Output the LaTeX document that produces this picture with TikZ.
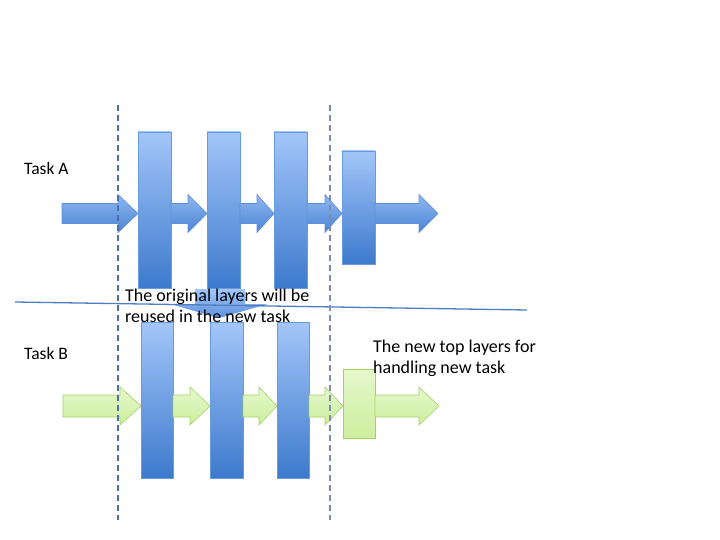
\documentclass[tikz,border=0pt]{standalone}
\usepackage{fontspec}
\setmainfont{Carlito}
\usetikzlibrary{calc}
\definecolor{boxtop}{HTML}{A3C6F9}
\definecolor{boxbot}{HTML}{3D7ACD}
\definecolor{boxline}{HTML}{6A9BE0}
\definecolor{arrtop}{HTML}{8FB7F0}
\definecolor{arrbot}{HTML}{4B84D4}
\definecolor{arrline}{HTML}{5E90D8}
\definecolor{grtop}{HTML}{E6F8CC}
\definecolor{grbot}{HTML}{CDEE9E}
\definecolor{grline}{HTML}{A0D268}
\definecolor{dashA}{HTML}{4C6FAE}
\definecolor{dashB}{HTML}{7F8BAA}
\definecolor{sepline}{HTML}{4F7DC0}
\tikzset{
  bluebox/.style={draw=boxline, line width=0.6pt, top color=boxtop, bottom color=boxbot, inner sep=0pt, outer sep=0pt},
  greenbox/.style={draw=grline, line width=0.6pt, top color=grtop, bottom color=grbot, inner sep=0pt, outer sep=0pt},
  bluearr/.style={draw=arrline, line width=0.6pt, top color=arrtop, bottom color=arrbot},
  greenarr/.style={draw=grline, line width=0.6pt, top color=grtop, bottom color=grbot},
  divider/.style={line width=1.3pt, dash pattern=on 6pt off 4pt},
  lbl/.style={font=\fontsize{18}{21}\selectfont, inner sep=0pt, anchor=west, align=left},
  tasklbl/.style={font=\fontsize{17.5}{20}\selectfont, inner sep=0pt, anchor=west},
}
% #1 style, #2 start, #3 end, #4 half shaft, #5 half head, #6 head length
\newcommand\blockarr[6]{\path[#1] let \p1=(#2), \p2=(#3) in
  (\x1,\y2+#4) -- (\x2-#6,\y2+#4) -- (\x2-#6,\y2+#5) -- (\x2,\y2) --
  (\x2-#6,\y2-#5) -- (\x2-#6,\y2-#4) -- (\x1,\y2-#4) -- cycle;}
\begin{document}
\begin{tikzpicture}[x=1pt,y=-1pt]
\useasboundingbox (0,0) rectangle (720,540);
% row coordinates
\coordinate (rowA) at (0,213.5);
\coordinate (rowB) at (0,406);
\coordinate (a0) at (62,213.5);
\coordinate (b0) at (63,406);
\coordinate (aend) at (438,213.5);
\coordinate (bend) at (439,406);
% Task A boxes
\node[bluebox, minimum width=33pt, minimum height=156pt] (a1) at (154.5,210) {};
\node[bluebox, minimum width=33pt, minimum height=156pt] (a2) at (223.5,210) {};
\node[bluebox, minimum width=33pt, minimum height=156pt] (a3) at (290.5,210) {};
\node[bluebox, minimum width=33pt, minimum height=113pt] (a4) at (358.5,207.5) {};
% Task B boxes
\node[bluebox, minimum width=32pt, minimum height=156pt] (b1) at (157,400) {};
\node[bluebox, minimum width=33pt, minimum height=156pt] (b2) at (226.5,400) {};
\node[bluebox, minimum width=32pt, minimum height=156pt] (b3) at (293,400) {};
\node[greenbox, minimum width=32pt, minimum height=69pt] (b4) at (359,403.5) {};
% Task A arrows
\blockarr{bluearr}{a0}{a1.west |- rowA}{10}{19}{20}
\blockarr{bluearr}{a1.east |- rowA}{a2.west |- rowA}{10}{19}{19}
\blockarr{bluearr}{a2.east |- rowA}{a3.west |- rowA}{10}{19}{17}
\blockarr{bluearr}{a3.east |- rowA}{a4.west |- rowA}{10}{19}{17}
\blockarr{bluearr}{a4.east |- rowA}{aend}{10}{19}{19}
% Task B arrows
\blockarr{greenarr}{b0}{b1.west |- rowB}{11}{19}{21}
\blockarr{greenarr}{b1.east |- rowB}{b2.west |- rowB}{11}{19}{20}
\blockarr{greenarr}{b2.east |- rowB}{b3.west |- rowB}{11}{19}{18}
\blockarr{greenarr}{b3.east |- rowB}{b4.west |- rowB}{11}{19}{18}
\blockarr{greenarr}{b4.east |- rowB}{bend}{11}{19}{20}
% down arrow (reuse)
\path[top color=boxtop, bottom color=arrbot!80!boxtop] (195,289) -- (245,289) -- (245,304) -- (268,304) -- (219,318) -- (170,304) -- (195,304) -- cycle;
% separator
\coordinate (s1) at (15,302);
\coordinate (s2) at (527,310);
\draw[sepline, line width=1.3pt] (s1) -- (s2);
% dashed dividers
\coordinate (d1t) at (118,105);
\coordinate (d1b) at (118,520);
\coordinate (d2t) at (330,105);
\coordinate (d2b) at (330,520);
\draw[divider, dashA] (d1t) -- (d1b);
\draw[divider, dashB] (d2t) -- (d2b);
% labels
\node[tasklbl] (ta) at (24,168) {Task A};
\node[tasklbl] (tb) at (24,353) {Task B};
\node[lbl] (orig) at (125,306) {The original layers will be\\reused in the new task};
\node[lbl] (newtop) at (373,358) {The new top layers for\\handling new task};
\end{tikzpicture}
\end{document}
